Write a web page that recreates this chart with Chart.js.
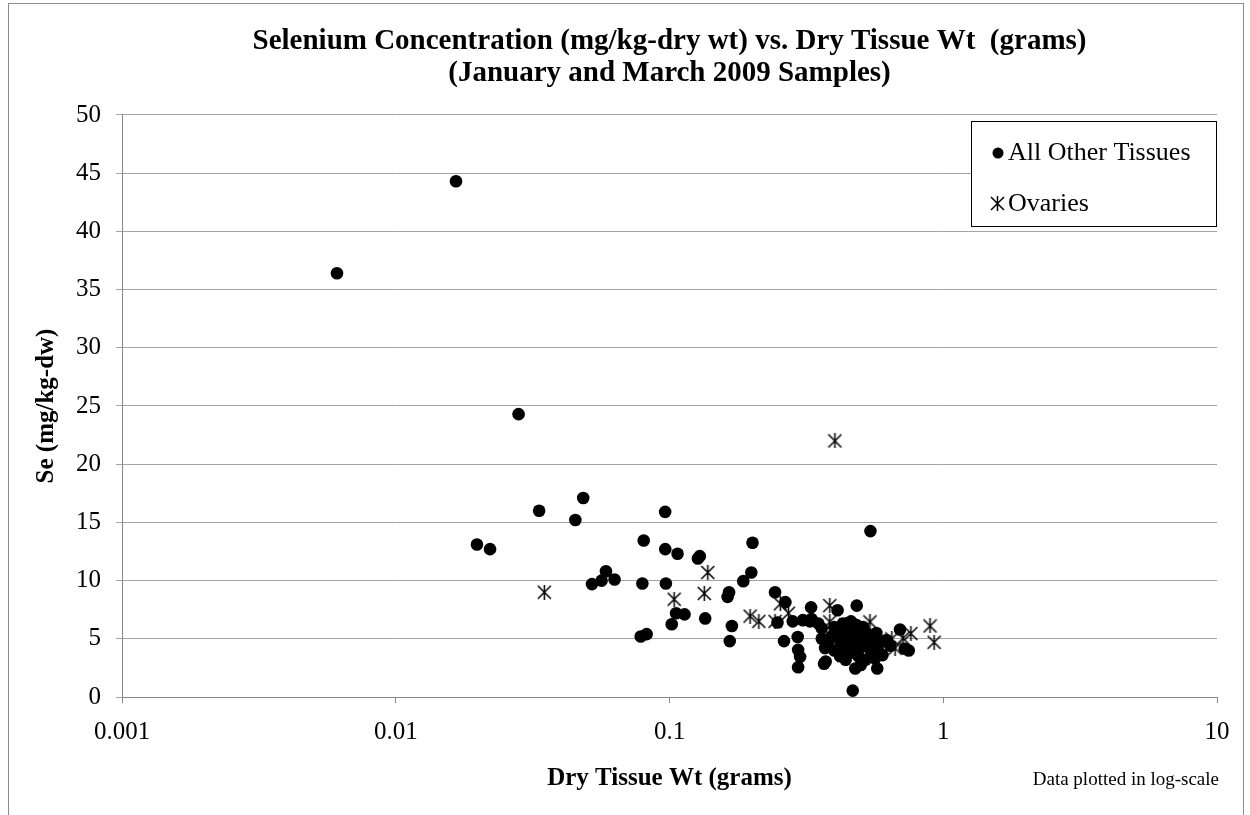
<!DOCTYPE html>
<html>
<head>
<meta charset="utf-8">
<title>Selenium vs Dry Tissue Wt</title>
<script src="https://cdn.jsdelivr.net/npm/chart.js@4.4.0/dist/chart.umd.min.js"></script>
<style>
  html, body { margin: 0; padding: 0; background: #fff; }
  #wrap { position: relative; width: 1250px; height: 815px; }
</style>
</head>
<body>
<div id="wrap"><canvas id="seChart" width="1250" height="815"></canvas></div>
<script>
// Data (x = dry tissue wt in grams, y = Se mg/kg-dw)
const otherX = [
  0.0061, 0.0166, 0.0198, 0.0221, 0.0281, 0.0334, 0.0453, 0.0484, 0.0521, 0.0565,
  0.0586, 0.063, 0.0796, 0.0805, 0.0785, 0.0825, 0.0965, 0.0964, 0.097, 0.1019,
  0.1057, 0.1135, 0.107, 0.127, 0.129, 0.135, 0.165, 0.163, 0.169, 0.166,
  0.186, 0.199, 0.201, 0.243, 0.248, 0.262, 0.265, 0.282, 0.294, 0.295,
  0.30, 0.295, 0.307, 0.326, 0.329, 0.36, 0.367, 0.372, 0.411, 0.483,
  0.542, 0.467, 0.477, 0.50, 0.574, 0.563, 0.60, 0.695, 0.723, 0.748,
  0.38, 0.39, 0.40, 0.40, 0.41, 0.42, 0.42, 0.43, 0.43, 0.44,
  0.44, 0.45, 0.45, 0.46, 0.46, 0.47, 0.47, 0.48, 0.48, 0.49,
  0.49, 0.50, 0.50, 0.51, 0.52, 0.52, 0.53, 0.54, 0.55, 0.56,
  0.57, 0.58, 0.59, 0.62, 0.64, 0.36, 0.37, 0.35, 0.33, 0.455
];
const otherY = [
  36.4, 44.3, 13.1, 12.7, 24.3, 16.0, 15.2, 17.1, 9.7, 10.0,
  10.8, 10.1, 9.75, 13.45, 5.2, 5.4, 12.7, 15.9, 9.75, 6.25,
  7.2, 7.1, 12.3, 11.9, 12.1, 6.75, 9.0, 8.6, 6.1, 4.8,
  9.95, 10.7, 13.25, 9.0, 6.4, 4.8, 8.15, 6.5, 5.15, 4.05,
  3.45, 2.55, 6.6, 6.5, 7.7, 5.9, 2.85, 3.05, 7.45, 7.85,
  14.25, 0.55, 2.45, 2.75, 2.45, 3.3, 3.6, 5.8, 4.15, 4.0,
  4.5, 5.2, 6.0, 4.0, 5.5, 4.8, 3.5, 6.3, 4.2, 5.0,
  3.2, 5.8, 4.5, 6.5, 3.8, 5.3, 4.0, 6.2, 4.8, 5.6,
  3.5, 5.0, 4.3, 6.0, 4.6, 3.2, 5.4, 4.1, 5.0, 4.4,
  5.5, 3.9, 4.7, 4.9, 4.4, 5.0, 4.2, 6.3, 6.7, 5.4
];
const ovaryX = [
  0.0349, 0.104, 0.134, 0.138, 0.197, 0.212, 0.243, 0.254, 0.272, 0.385,
  0.385, 0.402, 0.54, 0.649, 0.667, 0.713, 0.762, 0.895, 0.926, 0.44
];
const ovaryY = [
  9.0, 8.4, 8.9, 10.7, 6.95, 6.5, 6.5, 8.0, 7.2, 7.85,
  6.45, 22.0, 6.45, 5.0, 4.2, 5.05, 5.45, 6.1, 4.7, 6.2
];
const xTicks = [0.001, 0.01, 0.1, 1, 10];
const xTickLabels = ["0.001", "0.01", "0.1", "1", "10"];
const yTicks = [0, 5, 10, 15, 20, 25, 30, 35, 40, 45, 50];

const seriesNames = ["All Other Tissues", "Ovaries"];

// asterisk marker like the Excel one (X with a vertical bar)
function makeStar(size) {
  const c = document.createElement("canvas");
  c.width = size; c.height = size;
  const g = c.getContext("2d");
  g.strokeStyle = "#000";
  g.lineWidth = 1.5;
  const m = size / 2, r = size / 2 - 1;
  g.beginPath();
  g.moveTo(m - r, m - r); g.lineTo(m + r, m + r);
  g.moveTo(m + r, m - r); g.lineTo(m - r, m + r);
  g.moveTo(m, 0); g.lineTo(m, size);
  g.stroke();
  return c;
}
const starImg = makeStar(15);

const FONT = "'Liberation Serif', 'Times New Roman', serif";

// frame, legend box and the footnote
const extras = {
  id: "extras",
  beforeDraw(chart) {
    const c = chart.ctx;
    c.save();
    c.fillStyle = "#fff";
    c.fillRect(0, 0, chart.width, chart.height);
    c.strokeStyle = "#8c8c8c";
    c.lineWidth = 1;
    c.strokeRect(8.5, 3.5, 1235, 830);
    c.restore();
  },
  afterDatasetsDraw(chart) {
    const c = chart.ctx;
    c.save();
    // legend
    c.fillStyle = "#fff";
    c.fillRect(971, 121, 246, 106);
    c.strokeStyle = "#000";
    c.lineWidth = 1;
    c.strokeRect(971.5, 121.5, 245, 105);
    c.fillStyle = "#000";
    c.beginPath();
    c.arc(998, 153, 5.5, 0, Math.PI * 2);
    c.fill();
    c.drawImage(starImg, 990, 196);
    c.font = "26px " + FONT;
    c.textBaseline = "middle";
    c.fillText(seriesNames[0], 1008, 153);
    c.fillText(seriesNames[1], 1008, 204);
    // note
    c.font = "19px " + FONT;
    c.textAlign = "right";
    c.fillText("Data plotted in log-scale", 1219, 780);
    c.restore();
  }
};

const ctx = document.getElementById("seChart").getContext("2d");

new Chart(ctx, {
  type: "scatter",
  data: {
    datasets: [
      {
        label: seriesNames[0],
        data: otherX.map((x, i) => ({ x: x, y: otherY[i] })),
        pointStyle: "circle",
        pointRadius: 6.3,
        backgroundColor: "#000",
        borderColor: "#000",
        borderWidth: 0
      },
      {
        label: seriesNames[1],
        data: ovaryX.map((x, i) => ({ x: x, y: ovaryY[i] })),
        pointStyle: starImg,
        pointRadius: 7,
        backgroundColor: "#000",
        borderColor: "#000"
      }
    ]
  },
  options: {
    responsive: false,
    animation: false,
    layout: { padding: { left: 0, top: 0, right: 33, bottom: 0 } },
    plugins: {
      legend: { display: false },
      tooltip: { enabled: false },
      title: {
        display: true,
        fullSize: false,
        text: [
          "Selenium Concentration (mg/kg-dry wt) vs. Dry Tissue Wt  (grams)",
          "(January and March 2009 Samples)"
        ],
        color: "#000",
        font: { family: FONT, size: 29, weight: "bold", lineHeight: 1.12 },
        padding: { top: 25, bottom: 25 }
      }
    },
    scales: {
      x: {
        type: "logarithmic",
        min: 0.001,
        max: 10,
        afterBuildTicks: (scale) => {
          scale.ticks = xTicks.map((v) => ({ value: v }));
        },
        afterFit: (scale) => { scale.height = 118; },
        ticks: {
          color: "#000",
          font: { family: FONT, size: 25 },
          padding: 14,
          maxRotation: 0,
          callback: (value, i) => xTickLabels[i]
        },
        grid: {
          drawOnChartArea: false,
          drawTicks: true,
          tickLength: 6,
          color: "#868686"
        },
        border: { color: "#868686" },
        title: {
          display: true,
          text: "Dry Tissue Wt (grams)",
          color: "#000",
          font: { family: FONT, size: 25, weight: "bold", lineHeight: 1.2 },
          padding: { top: 0, bottom: 21 }
        }
      },
      y: {
        min: 0,
        max: 50,
        afterBuildTicks: (scale) => {
          scale.ticks = yTicks.map((v) => ({ value: v }));
        },
        afterFit: (scale) => { scale.width = 122; },
        ticks: {
          color: "#000",
          font: { family: FONT, size: 25 },
          padding: 15
        },
        grid: {
          color: "#a3a3a3",
          tickLength: 6
        },
        border: { color: "#868686" },
        title: {
          display: true,
          text: "Se (mg/kg-dw)",
          color: "#000",
          font: { family: FONT, size: 25, weight: "bold", lineHeight: 1.2 },
          padding: { top: 32, bottom: 0 }
        }
      }
    }
  },
  plugins: [extras]
});
</script>
</body>
</html>
